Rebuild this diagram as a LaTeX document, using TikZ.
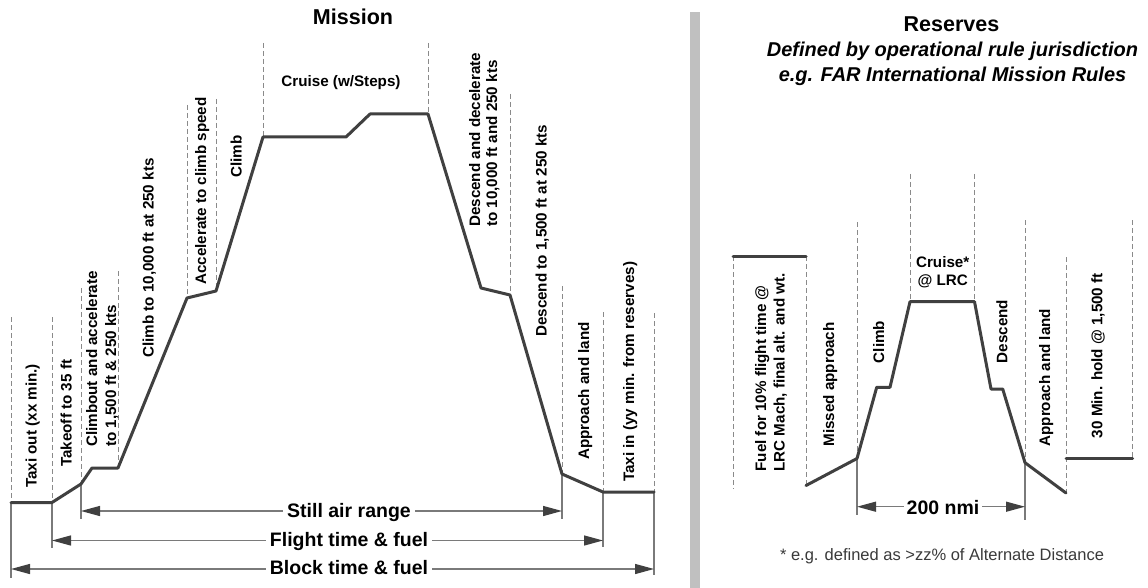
\documentclass[tikz,border=0pt]{standalone}
\usepackage{fontspec}
\setmainfont{Liberation Sans}
\usetikzlibrary{arrows.meta}
\definecolor{profc}{HTML}{404040}
\definecolor{dashc}{HTML}{8A8A8A}
\definecolor{extc}{HTML}{7A7A7A}
\definecolor{barc}{HTML}{C0C0C0}
\definecolor{notec}{HTML}{3A3A3A}
\tikzset{
  prof/.style={draw=profc,line width=3pt,line join=round,line cap=round},
  dsh/.style={draw=dashc,line width=1pt,dash pattern=on 5pt off 3pt},
  ext/.style={draw=extc,line width=1.3pt},
  dim/.style={draw=extc,line width=1.3pt,
    {Triangle[length=19pt,width=10pt,color=profc]}-{Triangle[length=19pt,width=10pt,color=profc]}},
  lbl/.style={font=\fontsize{15.2}{18}\selectfont\bfseries,rotate=90,anchor=base west,inner sep=0pt},
  hlbl/.style={font=\fontsize{15.2}{18}\selectfont\bfseries,anchor=base,inner sep=0pt},
  big/.style={font=\fontsize{19.5}{23}\selectfont\bfseries,anchor=base,fill=white,inner sep=4pt},
  ttl/.style={font=\fontsize{21.5}{25}\selectfont\bfseries,anchor=base,inner sep=0pt},
  sub/.style={font=\fontsize{20}{24}\selectfont\bfseries\itshape,anchor=base,inner sep=0pt},
  note/.style={font=\fontsize{16.5}{19}\selectfont,text=notec,anchor=base,inner sep=0pt}
}
\begin{document}
\begin{tikzpicture}[x=1pt,y=-1pt]
\useasboundingbox (0,0) rectangle (1148,588);
\fill[white] (0,0) rectangle (1148,588);
% separator bar
\fill[barc] (690,12) rectangle (700,588);

% ---------- Mission ----------
\node[ttl] (tmission) at (353,25) {Mission};

% profile points
\coordinate (p0) at (11,502.5);
\coordinate (p1) at (52,502.5);
\coordinate (p2) at (81,484);
\coordinate (p3) at (92,468);
\coordinate (p4) at (118,468);
\coordinate (p5) at (187,298);
\coordinate (p6) at (216,291);
\coordinate (p7) at (263,137);
\coordinate (p8) at (346,137);
\coordinate (p9) at (370,114);
\coordinate (p10) at (428,114);
\coordinate (p11) at (481,288);
\coordinate (p12) at (510,295);
\coordinate (p13) at (562,474);
\coordinate (p14) at (603,492);
\coordinate (p15) at (654,492);

% dashed tops
\coordinate (t0) at (11,317);
\coordinate (t1) at (52,317);
\coordinate (t2) at (81,288);
\coordinate (t4) at (118,271);
\coordinate (t5) at (187,105);
\coordinate (t6) at (216,99);
\coordinate (t7) at (263,43);
\coordinate (t10) at (428,43);
\coordinate (t12) at (510,94);
\coordinate (t13) at (562,286);
\coordinate (t14) at (603,312);
\coordinate (t15) at (654,313);
\foreach \a/\b in {t0/p0,t1/p1,t2/p2,t4/p4,t5/p5,t6/p6,t7/p7,t10/p10,t12/p12,t13/p13,t14/p14,t15/p15}
  \draw[dsh] (\a) -- (\b);

% extension lines
\coordinate (b0) at (11,578);
\coordinate (b1) at (52,548);
\coordinate (b2) at (81,519);
\coordinate (b13) at (562,519);
\coordinate (b14) at (603,547);
\coordinate (b15) at (654,575);
\foreach \a/\b in {p0/b0,p1/b1,p2/b2,p13/b13,p14/b14,p15/b15}
  \draw[ext] (\a) -- (\b);

\draw[prof] (p0) -- (p1) -- (p2) -- (p3) -- (p4) -- (p5) -- (p6) -- (p7) -- (p8)
  -- (p9) -- (p10) -- (p11) -- (p12) -- (p13) -- (p14) -- (p15);

% dimension arrows
\coordinate (a1l) at (81,511); \coordinate (a1r) at (562,511);
\coordinate (a2l) at (52,540.5); \coordinate (a2r) at (603,540.5);
\coordinate (a3l) at (11,569); \coordinate (a3r) at (654,569);
\draw[dim] (a1l) -- (a1r);
\draw[dim] (a2l) -- (a2r);
\draw[dim] (a3l) -- (a3r);
\node[big] (lstill) at (349,517.3) {Still air range};
\node[big] (lflight) at (349,546) {Flight time \& fuel};
\node[big] (lblock) at (349,574.3) {Block time \& fuel};

% mission labels
\node[lbl] (m1) at (36.5,488) {Taxi out (xx min.)};
\node[lbl] (m2) at (71.5,467) {Takeoff to 35 ft};
\node[lbl] (m3a) at (97,447) {Climbout and accelerate};
\node[lbl] (m3b) at (116,447) {to 1,500 ft \& 250 kts};
\node[lbl] (m4) at (153.5,358) {Climb to 10,000 ft at 250 kts};
\node[lbl] (m5) at (206,285) {Accelerate to climb speed};
\node[lbl] (m6) at (241.5,178) {Climb};
\node[hlbl] (m7) at (341,86.5) {Cruise (w/Steps)};
\node[lbl] (m8a) at (480,227) {Descend and decelerate};
\node[lbl] (m8b) at (497,227) {to 10,000 ft and 250 kts};
\node[lbl] (m9) at (546.5,337) {Descend to 1,500 ft at 250 kts};
\node[lbl] (m10) at (589,460) {Approach and land};
\node[lbl] (m11) at (634,482) {Taxi in (yy min. from reserves)};

% ---------- Reserves ----------
\node[ttl] (tres) at (951.5,31.7) {Reserves};
\node[sub] (tsub1) at (952.5,56.5) {Defined by operational rule jurisdiction};
\node[sub] (tsub2) at (952.5,81.5) {e.g. FAR International Mission Rules};

\coordinate (r0) at (733,256);
\coordinate (r1) at (806,256);
\coordinate (r2) at (806,485.5);
\coordinate (r3) at (857,458.5);
\coordinate (r4) at (876.7,387.3);
\coordinate (r5) at (890,387.3);
\coordinate (r6) at (910,301.7);
\coordinate (r7) at (974.5,301.7);
\coordinate (r8) at (991,389);
\coordinate (r9) at (1002.7,389);
\coordinate (r10) at (1025,462.7);
\coordinate (r11) at (1066,493);
\coordinate (r12) at (1066,458.3);
\coordinate (r13) at (1132.7,458.3);

\coordinate (rb0) at (733,488.3);
\coordinate (rt3) at (857,222);
\coordinate (rt6) at (910,174);
\coordinate (rt7) at (974.5,174);
\coordinate (rt10) at (1025,220);
\coordinate (rt11) at (1066,257);
\coordinate (rt13) at (1132.7,220);
\foreach \a/\b in {r0/rb0,r1/r2,rt3/r3,rt6/r6,rt7/r7,rt10/r10,rt11/r11,rt13/r13}
  \draw[dsh] (\a) -- (\b);

\coordinate (rb3) at (857,515);
\coordinate (rb10) at (1025,520);
\draw[ext] (r3) -- (rb3);
\draw[ext] (r10) -- (rb10);

\draw[prof] (r0) -- (r1);
\draw[prof] (r2) -- (r3) -- (r4) -- (r5) -- (r6) -- (r7) -- (r8) -- (r9) -- (r10) -- (r11);
\draw[prof] (r12) -- (r13);

\coordinate (a4l) at (857,506.7); \coordinate (a4r) at (1025,506.7);
\draw[dim] (a4l) -- (a4r);
\node[big,inner sep=2.5pt] (lnmi) at (943,514) {200 nmi};

\node[lbl] (s1a) at (766,471.7) {Fuel for 10\% flight time @};
\node[lbl] (s1b) at (784.5,471.7) {LRC Mach, final alt. and wt.};
\node[lbl] (s2) at (834,446.7) {Missed approach};
\node[lbl] (s3) at (884,363.3) {Climb};
\node[hlbl] (s4a) at (942.7,267.4) {Cruise*};
\node[hlbl] (s4b) at (942.7,285.5) {@ LRC};
\node[lbl] (s5) at (1007.4,363.3) {Descend};
\node[lbl] (s6) at (1050,446.7) {Approach and land};
\node[lbl] (s7) at (1102.4,438.3) {30 Min. hold @ 1,500 ft};

\node[note] (fn) at (942,560) {* e.g. defined as >zz\% of Alternate Distance};
\end{tikzpicture}
\end{document}
